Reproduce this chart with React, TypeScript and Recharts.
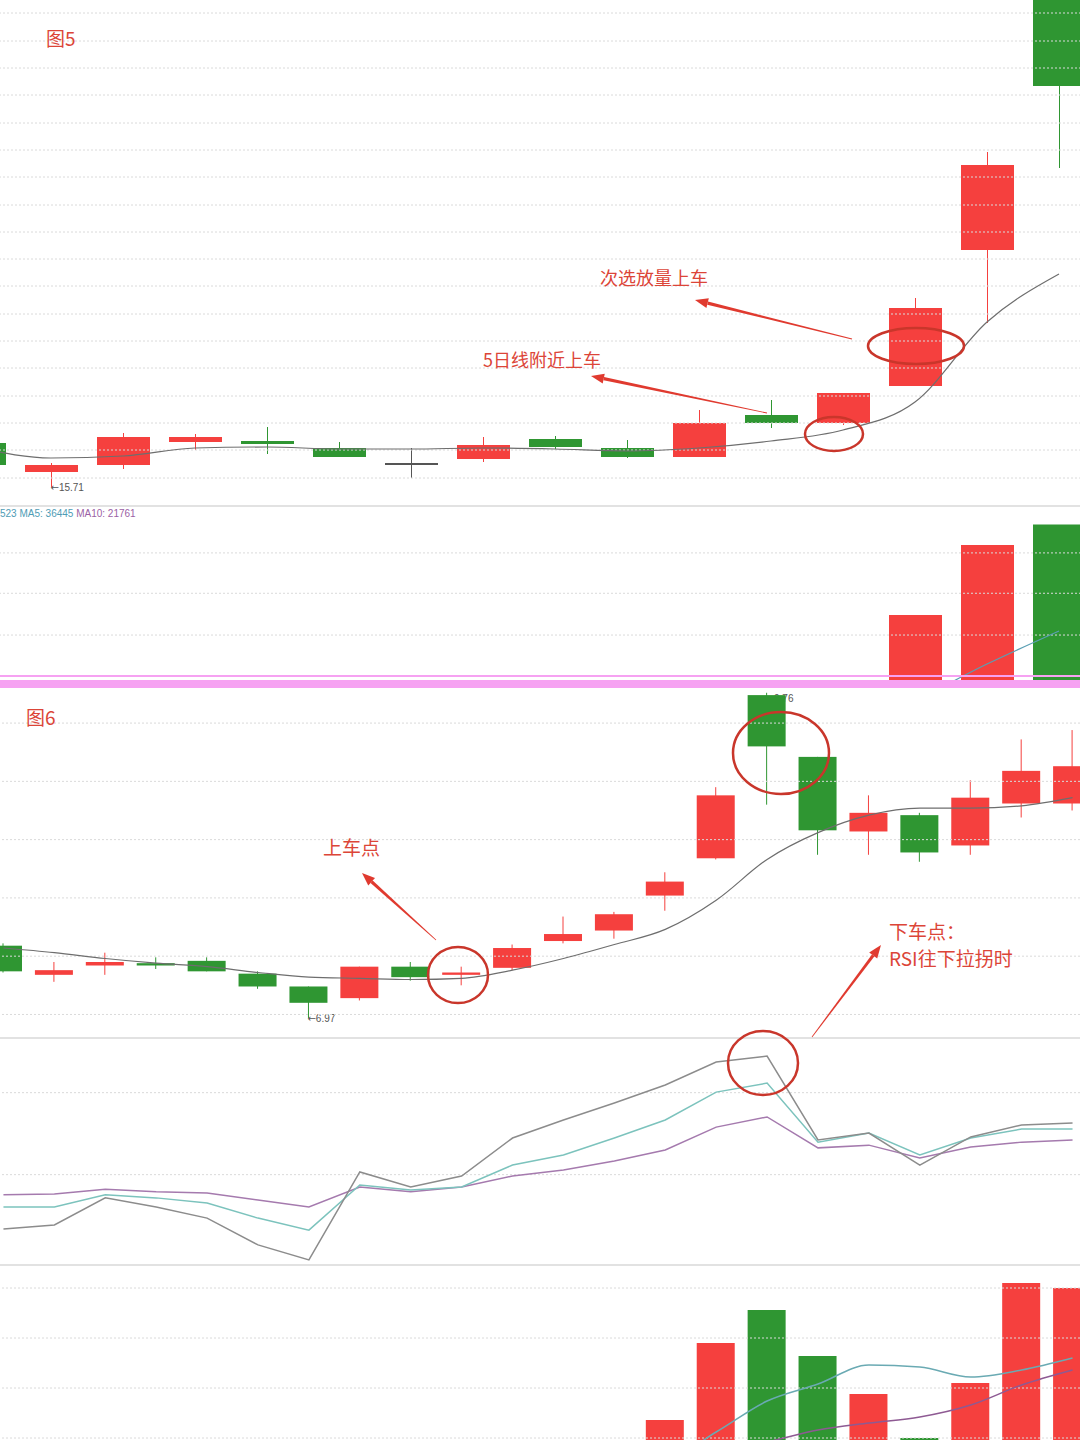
import React from "react";
import {
  ComposedChart,
  LineChart,
  Bar,
  Line,
  XAxis,
  YAxis,
  Cell,
  ReferenceLine,
} from "recharts";

const RED = "#f5403e";
const GREEN = "#2f9632";
const DOJI = "#555555";
const GRID = "#dadada";
const ANNO = "#dc4538";
const CJK = "'Noto Sans CJK SC', 'Noto Sans', sans-serif";
const NUM = "'Liberation Sans', Arial, sans-serif";

// ---- 图5 : 16 trading days ----
const days5 = ["1", "2", "3", "4", "5", "6", "7", "8", "9", "10", "11", "12", "13", "14", "15", "16"];
const open5 = [16.15, 15.86, 15.93, 16.16, 16.17, 16.1, 15.95, 15.99, 16.19, 16.1, 16.01, 16.43, 16.35, 16.72, 18.08, 21.18];
const high5 = [16.18, 15.95, 16.25, 16.24, 16.31, 16.16, 16.1, 16.21, 16.22, 16.18, 16.48, 16.58, 16.65, 17.6, 19.06, 21.38];
const low5 = [15.9, 15.71, 15.89, 16.08, 16.04, 16.01, 15.8, 15.96, 16.09, 16.0, 16.01, 16.3, 16.33, 16.72, 17.35, 18.9];
const close5 = [15.93, 15.93, 16.21, 16.21, 16.14, 16.01, 15.95, 16.13, 16.11, 16.01, 16.35, 16.35, 16.65, 17.5, 18.93, 19.72];
const ma5Price5 = [16.1, 16.0, 16.02, 16.1, 16.11, 16.09, 16.09, 16.1, 16.09, 16.07, 16.1, 16.17, 16.28, 16.56, 17.36, 17.84];
const vol5 = [14200, 11800, 16500, 12300, 10400, 9800, 13600, 11200, 9500, 10800, 20340, 5650, 7910, 40960, 60740, 66523];
const volMa5_5 = [12800, 12700, 13000, 13100, 12900, 12500, 12400, 11500, 10900, 10900, 13100, 11500, 10900, 17100, 27120, 36445];
const volMa10_5 = [12600, 12500, 12700, 12800, 12700, 12600, 12500, 12300, 12000, 11900, 12300, 11800, 11600, 14500, 19050, 21761];
const priceGrid5 = [20.45, 20.17, 19.9, 19.63, 19.35, 19.08, 18.81, 18.53, 18.26, 17.99, 17.72, 17.44, 17.17, 16.9, 16.62, 16.35, 16.08, 15.8];
const volGrid5 = [35300, 47100, 58500];

// ---- 图6 : 22 trading days ----
const days6 = ["1", "2", "3", "4", "5", "6", "7", "8", "9", "10", "11", "12", "13", "14", "15", "16", "17", "18", "19", "20", "21", "22"];
const open6 = [7.59, 7.34, 7.42, 7.44, 7.46, 7.35, 7.24, 7.14, 7.41, 7.34, 7.4, 7.63, 7.72, 8.02, 8.34, 9.74, 9.21, 8.57, 8.71, 8.45, 8.81, 8.81];
const high6 = [7.61, 7.45, 7.53, 7.49, 7.49, 7.37, 7.24, 7.41, 7.45, 7.41, 7.6, 7.84, 7.88, 8.22, 8.95, 9.76, 9.21, 8.88, 8.73, 9.01, 9.36, 9.44];
const low6 = [7.36, 7.28, 7.34, 7.39, 7.37, 7.22, 6.97, 7.12, 7.29, 7.25, 7.38, 7.61, 7.65, 7.89, 8.33, 8.8, 8.37, 8.37, 8.31, 8.37, 8.69, 8.75];
const close6 = [7.37, 7.38, 7.45, 7.42, 7.37, 7.24, 7.1, 7.41, 7.32, 7.36, 7.57, 7.69, 7.86, 8.14, 8.88, 9.3, 8.58, 8.73, 8.39, 8.86, 9.09, 9.13];
const ma5Price6 = [7.57, 7.53, 7.48, 7.44, 7.41, 7.36, 7.32, 7.31, 7.3, 7.31, 7.38, 7.48, 7.6, 7.73, 7.98, 8.33, 8.56, 8.71, 8.77, 8.77, 8.79, 8.86];
const rsi6 = [30.1, 31.6, 41.5, 38.2, 34.1, 24.3, 18.8, 51.0, 45.5, 49.5, 63.4, 70.0, 76.2, 82.8, 91.2, 93.4, 62.7, 65.2, 53.5, 63.8, 68.2, 68.9];
const rsi12 = [38.2, 38.2, 42.6, 41.5, 39.6, 34.1, 29.7, 46.2, 44.4, 45.5, 53.5, 57.2, 63.4, 70.0, 80.2, 83.5, 61.9, 65.2, 57.2, 63.4, 66.7, 66.7];
const rsi24 = [42.6, 42.9, 44.7, 43.7, 43.3, 40.7, 38.2, 45.5, 43.7, 45.5, 49.5, 51.7, 55.0, 59.0, 67.4, 71.1, 59.8, 60.8, 56.1, 60.1, 61.9, 62.7];
const vol6 = [88, 68, 63, 54, 58, 73, 84, 93, 68, 58, 73, 97, 47, 118, 195, 228, 182, 144, 100, 155, 255, 250];
const volMa5_6 = [78, 76, 74, 70, 66, 63, 65, 72, 75, 75, 75, 79, 76, 78, 106, 137, 154, 173, 171, 161, 168, 180];
const volMa10_6 = [74, 73, 72, 71, 70, 70, 71, 72, 72, 72, 71, 73, 74, 78, 86, 96, 108, 115, 121, 133, 153, 168];
const priceGrid6 = [7.0, 7.5, 8.0, 8.5, 9.0, 9.5];
const rsiGrid = [50, 80];
const volGrid6 = [100, 150, 200, 250];

const rows5 = days5.map((day, i) => ({
  day,
  open: open5[i],
  high: high5[i],
  low: low5[i],
  close: close5[i],
  ma5: ma5Price5[i],
  vol: vol5[i],
  volMa5: volMa5_5[i],
  volMa10: volMa10_5[i],
}));

const rows6 = days6.map((day, i) => ({
  day,
  open: open6[i],
  high: high6[i],
  low: low6[i],
  close: close6[i],
  ma5: ma5Price6[i],
  rsi6: rsi6[i],
  rsi12: rsi12[i],
  rsi24: rsi24[i],
  vol: vol6[i],
  volMa5: volMa5_6[i],
  volMa10: volMa10_6[i],
}));

const candleColor = (r: { open: number; close: number }) =>
  r.close > r.open ? RED : r.close < r.open ? GREEN : DOJI;

function PriceTag({ x, y, value }: { x: number; y: number; value: number }) {
  return (
    <text x={x} y={y} fontSize={10} fill="#555" dominantBaseline="central">
      <tspan fontFamily="'DejaVu Sans', sans-serif">←</tspan>
      <tspan fontFamily={NUM}>{value.toFixed(2)}</tspan>
    </text>
  );
}

// maxHigh = null: the highest candle's tag is outside the visible window in that screenshot
function candleShape(minLow: number, maxHigh: number | null) {
  return (props: any) => {
    const { x, y, width, height, payload } = props;
    if (!payload || x == null || y == null) return <g />;
    const top = Math.min(y, y + height);
    const h = Math.abs(height);
    const range = payload.high - payload.low;
    const ratio = range > 0 ? h / range : 0;
    const py = (v: number) => top + (payload.high - v) * ratio;
    const color = candleColor(payload);
    const cx = x + width / 2;
    const bodyTop = py(Math.max(payload.open, payload.close));
    const bodyH = Math.max(2, Math.abs(py(payload.open) - py(payload.close)));
    return (
      <g>
        {maxHigh !== null && payload.high === maxHigh && <PriceTag x={cx - 1} y={top + 5} value={payload.high} />}
        <line x1={cx} x2={cx} y1={top} y2={top + h} stroke={color} strokeWidth={1} />
        <rect x={x} y={bodyTop} width={width} height={bodyH} fill={color} />
        {payload.low === minLow && <PriceTag x={cx - 1} y={top + h} value={payload.low} />}
      </g>
    );
  };
}

function Arrow({ x1, y1, x2, y2 }: { x1: number; y1: number; x2: number; y2: number }) {
  const dx = x2 - x1;
  const dy = y2 - y1;
  const len = Math.hypot(dx, dy);
  const ux = dx / len;
  const uy = dy / len;
  const nx = -uy;
  const ny = ux;
  const hl = 13;
  const hw = 5;
  const bx = x2 - ux * hl;
  const by = y2 - uy * hl;
  const shaft = `${x1 + nx * 0.4},${y1 + ny * 0.4} ${bx + nx * 1.6},${by + ny * 1.6} ${bx - nx * 1.6},${by - ny * 1.6} ${x1 - nx * 0.4},${y1 - ny * 0.4}`;
  const head = `${x2},${y2} ${bx + nx * hw},${by + ny * hw} ${bx - nx * hw},${by - ny * hw}`;
  return (
    <g fill="#e03a2f">
      <polygon points={shaft} />
      <polygon points={head} />
    </g>
  );
}

const gridLines = (vals: number[]) =>
  vals.map((v) => (
    <ReferenceLine key={v} y={v} stroke={GRID} strokeDasharray="2 2" ifOverflow="hidden" />
  ));

const abs = (left: number, top: number, width: number, height: number): React.CSSProperties => ({
  position: "absolute",
  left,
  top,
  width,
  height,
  overflow: "hidden",
});

export default function App() {
  const minLow5 = Math.min(...low5);
  const minLow6 = Math.min(...low6);
  const maxHigh6 = Math.max(...high6);
  const m0 = { top: 0, right: 0, bottom: 0, left: 0 };
  // half a candle slot, so the RSI points sit on the candle centres
  const halfSlot6 = 1120 / days6.length / 2;

  return (
    <div style={{ position: "absolute", left: 0, top: 0, width: 1080, height: 1440, overflow: "hidden", background: "#fff" }}>
      {/* 图5 price */}
      <div style={abs(0, 0, 1080, 505)}>
        <div style={{ position: "absolute", left: -57, top: -95 }}>
          <ComposedChart width={1152} height={600} data={rows5} margin={m0}>
            <XAxis dataKey="day" hide />
            <YAxis hide domain={[15.53, 21.53]} allowDataOverflow />
            {gridLines(priceGrid5)}
            <Bar dataKey={(r: any) => [r.low, r.high]} barSize={53} shape={candleShape(minLow5, null)} isAnimationActive={false} />
            <Line dataKey="ma5" type="monotone" stroke="#6e6e6e" strokeWidth={1.2} dot={false} isAnimationActive={false} />
          </ComposedChart>
        </div>
      </div>
      <div style={{ position: "absolute", left: 0, top: 505, width: 1080, height: 2, background: "#e2e2e2" }} />

      {/* 图5 volume */}
      <div style={abs(0, 507, 1080, 173)}>
        <div style={{ position: "absolute", left: -57, top: 0 }}>
          <ComposedChart width={1152} height={253} data={rows5} margin={m0}>
            <XAxis dataKey="day" hide />
            <YAxis hide domain={[0, 71470]} allowDataOverflow />
            {gridLines(volGrid5)}
            <Bar dataKey="vol" barSize={53} isAnimationActive={false}>
              {rows5.map((r, i) => (
                <Cell key={i} fill={candleColor(r)} />
              ))}
            </Bar>
            <Line dataKey="volMa5" type="monotone" stroke="#5a9fb4" strokeWidth={1.2} dot={false} isAnimationActive={false} />
            <Line dataKey="volMa10" type="monotone" stroke="#9b5fa5" strokeWidth={1.2} dot={false} isAnimationActive={false} />
          </ComposedChart>
        </div>
        <div style={{ position: "absolute", left: 0, top: 1, fontFamily: NUM, fontSize: 10, whiteSpace: "nowrap" }}>
          <span style={{ color: "#4f9cb5" }}>523 </span>
          <span style={{ color: "#4f9cb5" }}>MA5: 36445 </span>
          <span style={{ color: "#9b5fa5" }}>MA10: 21761</span>
        </div>
      </div>

      {/* pink separator */}
      <div style={{ position: "absolute", left: 0, top: 675, width: 1080, height: 2, background: "#f6a2f2" }} />
      <div style={{ position: "absolute", left: 0, top: 680, width: 1080, height: 8, background: "#f6a2f2" }} />

      {/* 图6 price */}
      <div style={abs(0, 688, 1080, 350)}>
        <div style={{ position: "absolute", left: -22, top: 0 }}>
          <ComposedChart width={1120} height={350} data={rows6} margin={m0}>
            <XAxis dataKey="day" hide />
            <YAxis hide domain={[6.798, 9.801]} allowDataOverflow />
            {gridLines(priceGrid6)}
            <Bar dataKey={(r: any) => [r.low, r.high]} barSize={38} shape={candleShape(minLow6, maxHigh6)} isAnimationActive={false} />
            <Line dataKey="ma5" type="monotone" stroke="#6e6e6e" strokeWidth={1.2} dot={false} isAnimationActive={false} />
          </ComposedChart>
        </div>
      </div>
      <div style={{ position: "absolute", left: 0, top: 1037, width: 1080, height: 2, background: "#e2e2e2" }} />

      {/* 图6 RSI */}
      <div style={abs(0, 1039, 1080, 226)}>
        <div style={{ position: "absolute", left: -22, top: -1 }}>
          <LineChart width={1120} height={227} data={rows6} margin={m0}>
            <XAxis dataKey="day" hide padding={{ left: halfSlot6, right: halfSlot6 }} />
            <YAxis hide domain={[16.94, 100]} allowDataOverflow />
            {gridLines(rsiGrid)}
            <Line dataKey="rsi24" type="linear" stroke="#a57aae" strokeWidth={1.5} dot={false} isAnimationActive={false} />
            <Line dataKey="rsi12" type="linear" stroke="#7cc3bd" strokeWidth={1.5} dot={false} isAnimationActive={false} />
            <Line dataKey="rsi6" type="linear" stroke="#8c8c8c" strokeWidth={1.5} dot={false} isAnimationActive={false} />
          </LineChart>
        </div>
      </div>
      <div style={{ position: "absolute", left: 0, top: 1264, width: 1080, height: 2, background: "#e2e2e2" }} />

      {/* 图6 volume */}
      <div style={abs(0, 1266, 1080, 174)}>
        <div style={{ position: "absolute", left: -22, top: -1 }}>
          <ComposedChart width={1120} height={273} data={rows6} margin={m0}>
            <XAxis dataKey="day" hide />
            <YAxis hide domain={[0, 273]} allowDataOverflow />
            {gridLines(volGrid6)}
            <Bar dataKey="vol" barSize={38} isAnimationActive={false}>
              {rows6.map((r, i) => (
                <Cell key={i} fill={candleColor(r)} />
              ))}
            </Bar>
            <Line dataKey="volMa5" type="monotone" stroke="#6aaab3" strokeWidth={1.5} dot={false} isAnimationActive={false} />
            <Line dataKey="volMa10" type="monotone" stroke="#8e5a93" strokeWidth={1.5} dot={false} isAnimationActive={false} />
          </ComposedChart>
        </div>
      </div>

      {/* hand-drawn annotations */}
      <svg width={1080} height={1440} style={{ position: "absolute", left: 0, top: 0, pointerEvents: "none" }}>
        <g fontFamily={CJK} fill={ANNO}>
          <text x={46} y={37} fontSize={19} dominantBaseline="central">图5</text>
          <text x={600} y={277} fontSize={18} dominantBaseline="central">次选放量上车</text>
          <text x={483} y={359} fontSize={18} dominantBaseline="central">5日线附近上车</text>
          <text x={26} y={716} fontSize={19} dominantBaseline="central">图6</text>
          <text x={323} y={846} fontSize={19} dominantBaseline="central">上车点</text>
          <text x={889} y={930} fontSize={19} dominantBaseline="central">下车点：</text>
          <text x={889} y={957} fontSize={19} dominantBaseline="central">RSI往下拉拐时</text>
        </g>
        <Arrow x1={852} y1={339} x2={695} y2={300} />
        <Arrow x1={767} y1={413} x2={591} y2={376} />
        <Arrow x1={436} y1={940} x2={362} y2={873} />
        <Arrow x1={812} y1={1037} x2={881} y2={945} />
        <g fill="none" stroke="#c9362b" strokeWidth={2.5}>
          <ellipse cx={916} cy={346} rx={48} ry={18} />
          <ellipse cx={834} cy={434} rx={29} ry={17} />
          <ellipse cx={458} cy={975} rx={30} ry={28} />
          <ellipse cx={781} cy={753} rx={48} ry={41} />
          <ellipse cx={763} cy={1063} rx={35} ry={32} />
        </g>
      </svg>
    </div>
  );
}
